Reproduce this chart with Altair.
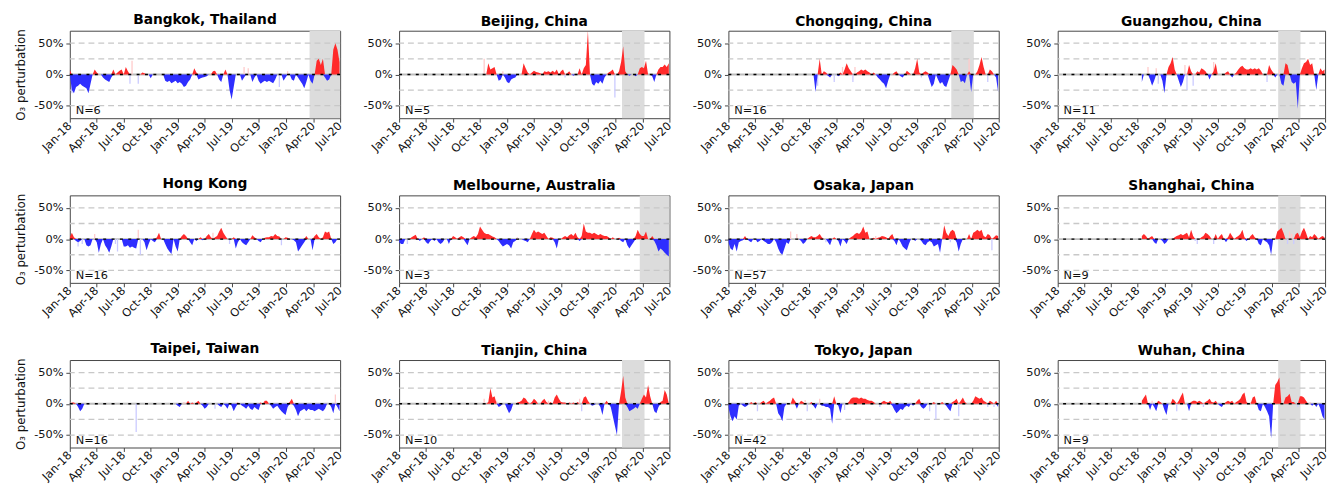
import altair as alt
import pandas as pd

# Weekly O3 perturbation (%) per city. *_START is the index of the first week
# (week 0 = 2018-01-01); cities with a late start have no earlier record.
BANGKOK_START = 0
BANGKOK = [
    8, -25, -30, -20, -18, -15, -18, -20, -22, -30,
    -15, 0, 8, 3, 0, 0, -5, -8, -10, -12,
    -5, 8, 0, 3, 6, 8, 0, 12, 5, 0,
    0, 0, 0, 0, 0, 3, 2, 0, 0, -6,
    0, 0, 0, 0, 0, 0, -10, -12, -10, -14,
    -12, -10, -14, -12, -15, -20, -18, -12, -8, 0,
    10, 3, -8, -6, -5, -4, -3, 0, 0, 5,
    6, 0, -8, -12, 0, 8, 0, -25, -40, -20,
    0, 0, 0, -10, -5, 0, 0, 0, -12, -5,
    0, -10, -15, -12, -10, -12, -10, -12, -14, -8,
    0, 0, 0, -10, -5, 0, 0, -8, -10, 0,
    -5, -10, -15, -22, -12, 0, -10, -15, 0, 22,
    25, 15, 25, -5, -10, -8, 0, 40, 50, 40,
    20,
]
BEIJING_START = 42
BEIJING = [
    0, 18, 8, 10, 12, 0, -10, -8,
    0, -5, -12, -14, -8, -6, -5, 0, 0, 0,
    18, 10, 3, 0, 3, 6, 4, 3, 2, 0,
    5, 4, 5, 3, 6, 3, 8, 0, 5, 8,
    0, 2, 5, 0, -2, 0, 0, 10, 0, 10,
    15, 70, 0, -15, -18, -12, -15, -10, -15, -5,
    0, 3, 5, 8, 0, 0, 5, 20, 45, 5,
    0, -2, 0, 0, -3, 0, 10, 12, 10, 22,
    0, 0, -3, -12, 0, 8, 12, 12, 16, 12,
    18,
]
CHONGQING_START = 41
CHONGQING = [
    0, -28, 0, 25, 0, 5, 3, -2, -5,
    0, 0, 0, -3, 3, 0, 8, 18, 10, 5,
    0, 0, 3, 5, 8, 6, 8, 5, 3, 0,
    3, 0, -5, -8, -12, -15, -22, -10, 0, 0,
    3, 5, 0, -3, -5, 0, 6, 3, 0, 0,
    10, 25, 3, 0, 3, 5, 3, -10, -20, -15,
    0, -8, -15, -12, -18, -20, -10, 0, 15, 12,
    8, 0, -12, -10, -14, 0, 5, -28, 0, 0,
    5, 15, 28, 12, 0, 0, 8, 5, 0, -5,
    -28,
]
GUANGZHOU_START = 41
GUANGZHOU = [
    -12, 0, 0, 0, -8, -18, -10, 0, 0,
    0, -10, -30, 0, 12, 18, 28, 8, 0, -10,
    -20, -12, 0, 0, 15, 5, 0, 0, 5, 3,
    10, 8, 5, 0, -8, 0, 5, 18, 0, 0,
    0, 0, 3, 5, 0, -5, 0, 3, 8, 12,
    14, 10, 8, 8, 10, 8, 10, 8, 10, 6,
    0, 0, 0, 15, 8, 3, -5, 0, 0, -15,
    -18, 18, 15, 0, -12, -15, -12, -55, 0, 10,
    18, 20, 25, 15, 18, 0, -25, 0, 10, 5,
    8,
]
HONGKONG_START = 0
HONGKONG = [
    3, 10, 3, -3, -5, -3, 0, 0, -10, -12,
    -10, 0, 0, -5, -22, -8, 0, -10, -15, -22,
    -12, 0, 0, 0, 0, 0, -12, -12, -10, -14,
    -12, -14, -15, 0, 0, 0, -5, -18, -8, 0,
    -3, -5, 3, 10, 0, 0, -8, -15, -20, -24,
    0, -12, -20, 0, 5, 8, 5, 0, -5, -10,
    0, -3, 0, 3, -2, 0, 5, 8, 3, 0,
    3, 5, 12, 18, 10, 5, 0, 0, 0, 3,
    -15, -5, 0, -5, -8, -10, -5, 0, 6, 3,
    0, -3, -5, 0, 2, 3, 3, 5, 4, 8,
    5, 4, 0, 0, 3, 2, 0, 0, -2, -5,
    -20, -15, -10, -5, 5, 0, 0, -18, 5, 8,
    3, 0, 3, 12, 10, 12, 0, -8, -5, 0,
    0,
]
MELBOURNE_START = 0
MELBOURNE = [
    -5, -8, -8, 0, 0, 0, 3, 5, 7, 0,
    -3, 0, 3, -5, -8, -3, 0, -3, 0, -5,
    -8, -5, 0, 0, -8, 0, 5, 3, 0, 3,
    5, 3, -5, -10, 0, 3, 5, 3, 8, 20,
    15, 10, 8, 8, 6, 4, 3, 0, -3, -8,
    -12, -10, -8, -10, -15, -5, -3, 0, 0, 0,
    -2, -3, -5, 0, 8, 15, 10, 12, 10, 8,
    10, 5, 0, 3, 2, -5, -15, 0, 0, 3,
    5, 3, 6, 8, 5, 10, 3, -3, 5, 25,
    12, 10, 10, 8, 10, 8, 6, 8, 6, 5,
    5, 3, 0, 3, 0, 0, 2, -3, -5, 0,
    -10, -15, -10, -5, 5, 15, 8, 5, 5, 12,
    0, 0, 5, -3, -10, -20, -15, -18, -22, -25,
    -28,
]
OSAKA_START = 0
OSAKA = [
    -5, -15, -18, -8, -20, -5, -3, -2, 5, 0,
    -3, -5, 0, 0, -5, -3, 0, -3, -5, -8,
    -8, -5, 0, -5, -15, -22, -25, -15, -5, -8,
    0, 0, 0, 0, 0, -3, -8, -5, 0, 3,
    5, 3, 3, 5, 8, 3, 0, 0, -5, -10,
    0, 3, 0, -3, -12, 0, -3, -8, 0, 3,
    5, 8, 10, 8, 12, 20, 10, 12, 0, 0,
    2, 0, 2, 3, 5, 4, 3, 0, 5, 8,
    -3, -10, 0, -5, -12, -15, -18, -8, 0, 0,
    -3, 0, 0, -3, -8, -10, -5, -3, -5, -12,
    -10, -8, -22, 0, 22, 10, 5, 12, 15, 12,
    -5, -20, -8, 0, 0, 0, 8, 0, 10, 12,
    15, 12, 15, 5, 3, 8, 6, 0, 3, 6,
    5,
]
SHANGHAI_START = 41
SHANGHAI = [
    5, 8, 5, 0, 3, 5, -5, -8, 0,
    0, -3, -8, -5, 0, 0, 0, 3, 5, 6,
    8, 6, 8, 10, 3, 15, 5, 0, 0, 0,
    3, 5, 10, 8, 5, 0, 0, 8, 0, 5,
    8, 0, -5, 3, 10, 5, 0, 3, 5, 8,
    15, 3, -3, 0, 5, 8, 3, 0, -8, -10,
    0, -3, -5, -10, -25, 0, 0, 12, 15, 18,
    10, 0, 0, 0, 0, 0, 8, 10, 3, 12,
    18, 10, 0, 5, 3, 8, 5, 0, 3, 5,
    3,
]
TAIPEI_START = 0
TAIPEI = [
    0, 2, 2, 0, -5, -12, -8, 0, 0, 0,
    0, 0, 0, 0, 0, 0, 0, 0, 0, 0,
    0, 0, 0, 0, 0, 0, 0, 0, 0, 0,
    0, 0, 0, 0, 0, 0, 0, 0, 0, 0,
    0, 0, 0, 0, 0, 0, 0, 0, 0, 0,
    0, 0, -3, -5, 0, 0, 0, 5, 0, 2,
    0, 2, 5, 0, -3, -8, -5, 0, 0, 0,
    0, 0, -3, -5, 0, -3, -8, 0, -3, -12,
    -5, 2, 0, -3, -5, -8, -3, -8, -10, -5,
    -8, -10, 2, 0, 5, 5, 0, -3, -8, -5,
    -3, -8, -12, -15, -18, -5, 3, 8, -3, -10,
    -20, -12, -10, -8, -12, -8, -10, -10, -12, -10,
    -8, -10, -12, -8, 0, 0, -5, -15, 0, -5,
    -12,
]
TIANJIN_START = 41
TIANJIN = [
    0, 0, 3, 25, 10, 12, 0, -5, -3,
    0, 0, -8, -15, -10, 0, 0, 2, 3, 5,
    10, 8, 3, 0, 3, 8, 5, 0, 0, 5,
    8, 3, 0, 3, 0, 10, 15, 8, 3, 2,
    2, 0, 2, 0, 2, 0, 3, 0, 0, 10,
    12, 5, 0, -3, -2, 0, 0, -5, -18, 0,
    5, 0, -5, -20, -35, -50, 0, 20, 45, 10,
    -5, -12, -10, -8, -5, -8, 0, 8, 15, 10,
    30, 12, 0, -12, -15, -5, 3, 5, 22, 15,
    0,
]
TOKYO_START = 0
TOKYO = [
    -5, -20, -28, -20, -25, -3, 0, -3, -5, -3,
    0, 3, 0, 3, 0, 0, 3, 5, 0, 3,
    5, 8, 10, 0, -15, -20, -28, -5, 0, 0,
    0, 10, 5, -8, 0, 5, 3, 0, 0, 0,
    3, -3, -8, 0, 0, -3, -3, -5, -5, -8,
    -32, 12, 0, -3, -15, 0, 0, 0, 3, 8,
    10, 10, 10, 8, 10, 8, 8, 6, 5, 5,
    3, 0, 0, 0, 3, 5, 3, 2, 5, -3,
    -10, -15, -12, -8, -10, -5, -3, -5, 0, -3,
    0, 5, 8, -5, -8, -5, 0, 0, 0, 3,
    0, 0, 0, 3, 0, -3, -8, -12, 3, 5,
    8, 0, 5, 10, 3, 0, 0, 0, 5, 12,
    10, 8, 10, 5, 3, 0, 5, 3, 0, 5,
    -5,
]
WUHAN_START = 41
WUHAN = [
    5, 10, 15, 0, -10, 0, -5, -12, 5,
    3, 0, -10, -18, 0, 0, 8, 5, 0, 5,
    12, 18, 0, 0, -12, 3, 5, 5, 3, 5,
    3, 0, 3, 5, 8, 3, 2, 5, 0, -3,
    -5, 0, 3, 5, 3, 5, 0, 3, 5, 8,
    15, 18, 3, 0, 0, 10, 12, 0, -10, -12,
    0, -5, -12, -20, -55, 0, 30, 35, 42, 0,
    0, 10, 12, 16, 3, 3, 0, 0, 12, 12,
    10, 5, 0, 0, -3, 0, -5, 0, -8, -20,
    -25,
]

# Isolated pale spikes: (week index, value %)
BANGKOK_FAINT = [(1, -30), (29, -15), (30, 22), (33, -15), (84, 12), (86, 10), (101, -20), (105, 5)]
BEIJING_FAINT = [(41, 25), (50, 5), (80, -5), (104, -37)]
CHONGQING_FAINT = [(43, -18), (51, -12), (55, 12), (60, -12), (61, 12), (93, -5), (116, 25), (125, -12)]
GUANGZHOU_FAINT = [(44, 12), (48, 10), (49, -15), (62, 15), (63, -25), (66, -18), (76, 20), (102, -12), (108, 8)]
HONGKONG_FAINT = [(4, -12), (6, -8), (12, 8), (22, -8), (23, -20), (33, 15), (34, -25), (69, 10), (77, -8), (102, -10)]
MELBOURNE_FAINT = [(4, -8), (57, 3), (120, 3)]
OSAKA_FAINT = [(30, 12), (33, 8), (47, -5), (71, 5), (107, -5), (127, -18)]
SHANGHAI_FAINT = [(67, -3), (68, -8), (76, -8), (112, -8), (113, 12), (114, 8), (115, -8)]
TAIPEI_FAINT = [(0, -3), (32, -45), (55, 3), (70, -8), (128, 15)]
TIANJIN_FAINT = [(41, 8), (47, 5), (72, 5), (87, 8), (88, -12)]
TOKYO_FAINT = [(14, -12), (37, 6), (38, -12), (44, 8), (56, -10), (73, -5), (97, -12), (100, -25), (111, -20), (125, -5), (128, -5)]
WUHAN_FAINT = [(46, 5), (58, -12), (71, -5), (94, 3), (117, -5), (123, 3)]

# Lockdown periods (shaded)
CHINA_LOCKDOWN = ("2020-01-23", "2020-04-08")
BANGKOK_LOCKDOWN = ("2020-03-20", "2020-07-01")
MELBOURNE_LOCKDOWN = ("2020-03-23", "2020-07-01")

CITIES = [
    ("Bangkok, Thailand", BANGKOK, BANGKOK_START, 6, BANGKOK_LOCKDOWN, BANGKOK_FAINT),
    ("Beijing, China", BEIJING, BEIJING_START, 5, CHINA_LOCKDOWN, BEIJING_FAINT),
    ("Chongqing, China", CHONGQING, CHONGQING_START, 16, CHINA_LOCKDOWN, CHONGQING_FAINT),
    ("Guangzhou, China", GUANGZHOU, GUANGZHOU_START, 11, CHINA_LOCKDOWN, GUANGZHOU_FAINT),
    ("Hong Kong", HONGKONG, HONGKONG_START, 16, None, HONGKONG_FAINT),
    ("Melbourne, Australia", MELBOURNE, MELBOURNE_START, 3, MELBOURNE_LOCKDOWN, MELBOURNE_FAINT),
    ("Osaka, Japan", OSAKA, OSAKA_START, 57, None, OSAKA_FAINT),
    ("Shanghai, China", SHANGHAI, SHANGHAI_START, 9, CHINA_LOCKDOWN, SHANGHAI_FAINT),
    ("Taipei, Taiwan", TAIPEI, TAIPEI_START, 16, None, TAIPEI_FAINT),
    ("Tianjin, China", TIANJIN, TIANJIN_START, 10, CHINA_LOCKDOWN, TIANJIN_FAINT),
    ("Tokyo, Japan", TOKYO, TOKYO_START, 42, None, TOKYO_FAINT),
    ("Wuhan, China", WUHAN, WUHAN_START, 9, CHINA_LOCKDOWN, WUHAN_FAINT),
]

GRID = [-50, -25, 25, 50]
RED = "#ff2a2a"
BLUE = "#2e2eff"
FONT = "DejaVu Sans"
H = 89

DAY0 = pd.Timestamp("2018-01-01")


def week_date(i):
    return (DAY0 + pd.Timedelta(days=7 * i)).strftime("%Y-%m-%d")


X_SCALE = alt.Scale(
    type="utc",
    domain=[alt.DateTime(year=2018, month=1, date=1, utc=True),
            alt.DateTime(year=2020, month=7, date=1, utc=True)],
)
Y_SCALE = alt.Scale(domain=[-70, 70], nice=False)
TICKS = [alt.DateTime(year=y, month=m, date=1, utc=True)
         for y in (2018, 2019, 2020) for m in (1, 4, 7, 10)
         if not (y == 2020 and m == 10)]

X_AXIS = alt.Axis(
    values=TICKS, format="%b-%y", labelAngle=315, labelAlign="right",
    labelBaseline="middle", labelFlush=False, labelOverlap=False,
    tickSize=4, labelPadding=2, domain=False, grid=False, title=None,
    minExtent=40, maxExtent=40, labelFontSize=11.5, labelColor="#111",
    tickColor="#444",
)


def y_axis(with_title):
    kw = dict(
        values=[-50, 0, 50], labelExpr="datum.value + '%'", tickSize=4,
        labelPadding=3, domain=False, grid=False, minExtent=38, maxExtent=38,
        labelFontSize=11.5, labelColor="#111", tickColor="#444",
    )
    if with_title:
        kw.update(title="O₃ perturbation", titleFontSize=12,
                  titleFontWeight="normal", titlePadding=5, titleColor="#111")
    else:
        kw.update(title=None)
    return alt.Axis(**kw)


def panel(title, values, start, n_sites, shade, faint, width, first_col):
    yax = y_axis(first_col)
    series = pd.DataFrame({
        "date": [week_date(start + i) for i in range(len(values))],
        "v": values,
    })
    series["pos"] = series["v"].clip(lower=0)
    series["neg"] = series["v"].clip(upper=0)
    x = alt.X("date:T", scale=X_SCALE, axis=X_AXIS)

    layers = []
    if shade:
        layers.append(
            alt.Chart(pd.DataFrame({"a": [shade[0]], "b": [shade[1]]}))
            .mark_rect(color="#dcdcdc")
            .encode(x=alt.X("a:T", scale=X_SCALE, axis=X_AXIS), x2="b:T",
                    y=alt.value(0), y2=alt.value(H))
        )
    layers.append(
        alt.Chart(pd.DataFrame({"g": GRID}))
        .mark_rule(color="#c8c8c8", strokeWidth=1.3, strokeDash=[6, 4])
        .encode(y=alt.Y("g:Q", scale=Y_SCALE, axis=yax))
    )
    layers.append(
        alt.Chart(pd.DataFrame({"g": [0]}))
        .mark_rule(color="#bdbdbd", strokeWidth=2)
        .encode(y=alt.Y("g:Q", scale=Y_SCALE, axis=yax))
    )
    fdf = pd.DataFrame({
        "date": [week_date(w) for w, _ in faint],
        "v": [v for _, v in faint],
        "z": [0] * len(faint),
    })
    layers.append(
        alt.Chart(fdf)
        .mark_rule(strokeWidth=1.3, clip=True)
        .encode(
            x=alt.X("date:T", scale=X_SCALE, axis=X_AXIS),
            y=alt.Y("z:Q", scale=Y_SCALE, axis=yax), y2="v:Q",
            color=alt.condition("datum.v > 0", alt.value("#ffcaca"), alt.value("#cacaff")),
        )
    )
    layers.append(
        alt.Chart(series).mark_area(color=RED, clip=True, interpolate="linear")
        .encode(x=x, y=alt.Y("pos:Q", scale=Y_SCALE, axis=yax))
    )
    layers.append(
        alt.Chart(series).mark_area(color=BLUE, clip=True, interpolate="linear")
        .encode(x=x, y=alt.Y("neg:Q", scale=Y_SCALE, axis=yax))
    )
    layers.append(
        alt.Chart(pd.DataFrame({"g": [0]}))
        .mark_rule(color="black", strokeWidth=1.5, strokeDash=[3, 5.5])
        .encode(y=alt.Y("g:Q", scale=Y_SCALE, axis=yax))
    )
    layers.append(
        alt.Chart(pd.DataFrame({"t": [f"N={n_sites}"]}))
        .mark_text(align="left", baseline="alphabetic", fontSize=11.5, color="#111", font=FONT)
        .encode(x=alt.value(6), y=alt.value(H - 4), text="t:N")
    )
    return alt.layer(*layers).properties(
        width=width, height=H,
        title=alt.TitleParams(title, fontSize=14, fontWeight="bold", offset=2,
                              color="black", font=FONT),
    )


rows = []
for r in range(3):
    cells = []
    for c in range(4):
        name, vals, start, n, shade, faint = CITIES[r * 4 + c]
        cells.append(panel(name, vals, start, n, shade, faint,
                           272 if c == 3 else 275, c == 0))
    rows.append(alt.hconcat(*cells, spacing=16))

chart = (
    alt.vconcat(*rows, spacing=18.5)
    .properties(padding={"left": 14, "top": 8, "right": 0, "bottom": 0}, background="white")
    .configure(font=FONT)
    .configure_view(stroke="#444", strokeWidth=1)
)

chart.save("out.html", embed_options={"renderer": "svg", "actions": False})
